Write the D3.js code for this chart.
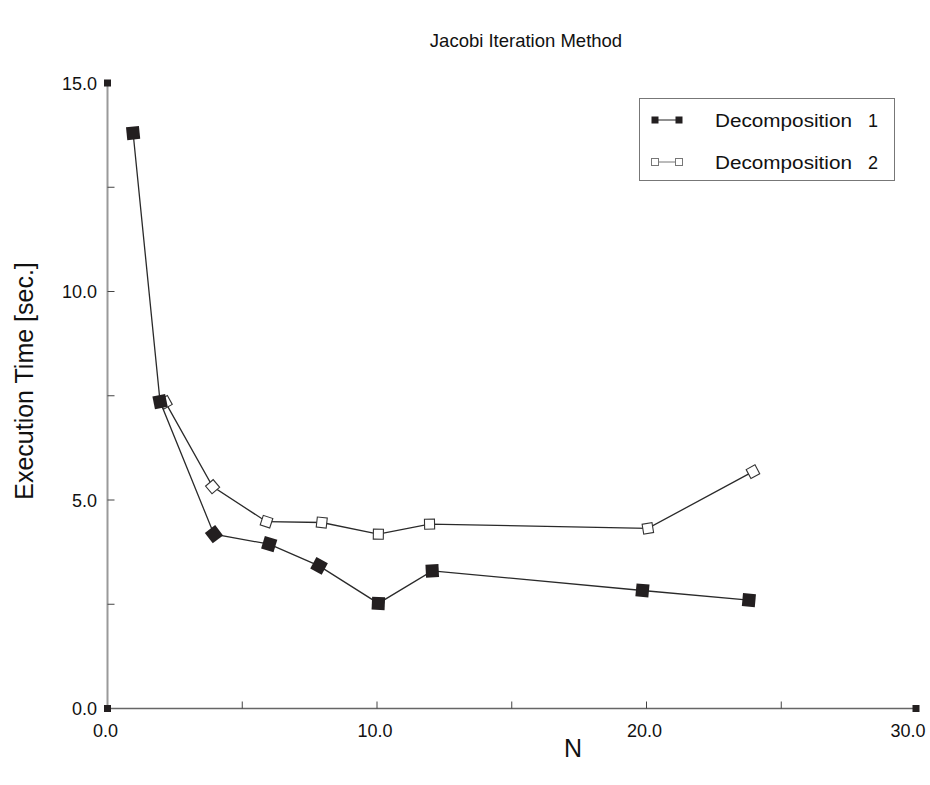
<!DOCTYPE html>
<html><head><meta charset="utf-8">
<script src="https://cdn.jsdelivr.net/npm/d3@7"></script>
<style>
html,body{margin:0;padding:0;background:#fff;}
svg text{font-family:"Liberation Sans",Arial,sans-serif;fill:#111;}
</style></head>
<body><svg id="c" width="930" height="785"></svg>
<script>
// ---- data ----
const seriesWords = ["Decomposition", "Decomposition"];
const seriesNums = ["1", "2"];
const dec1X = [0.95, 1.95, 3.95, 6.0, 7.85, 10.05, 12.05, 19.85, 23.8];
const dec1Y = [13.8, 7.36, 4.18, 3.94, 3.42, 2.52, 3.30, 2.83, 2.60];
const dec2X = [2.15, 3.9, 5.9, 7.95, 10.05, 11.95, 20.05, 23.95];
const dec2Y = [7.34, 5.32, 4.48, 4.46, 4.18, 4.42, 4.32, 5.68];
const xMajorTicks = [0, 10, 20, 30];
const xMinorTicks = [5, 15, 25];
const yMajorTicks = [0, 5, 10, 15];
const yMinorTicks = [2.5, 7.5, 12.5];
const titleText = "Jacobi Iteration Method";
const xTitle = "N";
const yTitle = "Execution Time [sec.]";

const svg = d3.select("#c");
const x = d3.scaleLinear().domain([0, 30]).range([107.5, 916]);
const y = d3.scaleLinear().domain([0, 15]).range([708.5, 83]);

// axes lines
svg.append("line").attr("x1", x(0)).attr("x2", x(0)).attr("y1", y(0)).attr("y2", y(15))
  .attr("stroke", "#9a9a9a").attr("stroke-width", 2);
svg.append("line").attr("x1", x(0)).attr("x2", x(30)).attr("y1", y(0)).attr("y2", y(0))
  .attr("stroke", "#666").attr("stroke-width", 1.5);

// y ticks (inside)
svg.append("g").selectAll("line").data(yMajorTicks.concat(yMinorTicks).filter(v => v > 0 && v < 15))
  .join("line").attr("x1", x(0)).attr("x2", x(0) + 7).attr("y1", d => y(d)).attr("y2", d => y(d))
  .attr("stroke", "#444").attr("stroke-width", 1);
// x ticks (inside)
svg.append("g").selectAll("line").data(xMajorTicks.concat(xMinorTicks).filter(v => v > 0 && v < 30))
  .join("line").attr("x1", d => x(d)).attr("x2", d => x(d)).attr("y1", y(0)).attr("y2", y(0) - 7)
  .attr("stroke", "#444").attr("stroke-width", 1);

// axis end markers
[[0, 15], [0, 0], [30, 0]].forEach(p => {
  svg.append("rect").attr("x", x(p[0]) - 3.5).attr("y", y(p[1]) - 3.5).attr("width", 7).attr("height", 7)
    .attr("fill", "#231f20");
});

// tick labels
svg.append("g").selectAll("text").data(yMajorTicks).join("text")
  .attr("x", 97).attr("y", d => y(d) + 6.5).attr("text-anchor", "end")
  .attr("font-size", 18).text(d => d.toFixed(1));
svg.append("g").selectAll("text").data(xMajorTicks).join("text")
  .attr("x", d => Math.min(x(d) - 2, 908)).attr("y", 736.5).attr("text-anchor", "middle")
  .attr("font-size", 18).text(d => d.toFixed(1));

// titles
svg.append("text").attr("x", 526).attr("y", 47).attr("text-anchor", "middle")
  .attr("font-size", 18.5).text(titleText);
svg.append("text").attr("x", 573).attr("y", 757).attr("text-anchor", "middle")
  .attr("font-size", 25).text(xTitle);
svg.append("text").attr("transform", "translate(33,381) rotate(-90)").attr("text-anchor", "middle")
  .attr("font-size", 25).text(yTitle);

// series
const line = d3.line().x(d => x(d[0])).y(d => y(d[1]));
function drawSeries(xs, ys, filled, size) {
  const pts = xs.map((v, i) => [v, ys[i]]);
  svg.append("path").attr("d", line(pts)).attr("fill", "none")
    .attr("stroke", "#2a2a2a").attr("stroke-width", 1.3);
  const g = svg.append("g");
  pts.forEach((p, i) => {
    const a = pts[Math.max(0, i - 1)], b = pts[Math.min(pts.length - 1, i + 1)];
    const ang = Math.atan2(y(b[1]) - y(a[1]), x(b[0]) - x(a[0])) * 180 / Math.PI;
    g.append("rect").attr("x", -size / 2).attr("y", -size / 2).attr("width", size).attr("height", size)
      .attr("transform", `translate(${x(p[0])},${y(p[1])}) rotate(${ang})`)
      .attr("fill", filled ? "#231f20" : "#fff")
      .attr("stroke", filled ? "#231f20" : "#333").attr("stroke-width", filled ? 0 : 1.1);
  });
}
drawSeries(dec2X, dec2Y, false, 10);
drawSeries(dec1X, dec1Y, true, 13);

// legend
const lg = svg.append("g");
lg.append("rect").attr("x", 639.5).attr("y", 98.5).attr("width", 255).attr("height", 82)
  .attr("fill", "#fff").attr("stroke", "#777").attr("stroke-width", 1);
seriesWords.forEach((name, i) => {
  const cy = 120 + i * 42;
  lg.append("line").attr("x1", 655).attr("x2", 679).attr("y1", cy).attr("y2", cy)
    .attr("stroke", i === 0 ? "#222" : "#777").attr("stroke-width", 1);
  [655, 679].forEach(cx => lg.append("rect").attr("x", cx - 3.5).attr("y", cy - 3.5)
    .attr("width", 7).attr("height", 7)
    .attr("fill", i === 0 ? "#231f20" : "#fff").attr("stroke", i === 0 ? "none" : "#777"));
  lg.append("text").attr("x", 715).attr("y", cy + 6.5).attr("font-size", 18)
    .attr("textLength", 137).attr("lengthAdjust", "spacingAndGlyphs").text(name);
  lg.append("text").attr("x", 868).attr("y", cy + 6.5).attr("font-size", 18).text(seriesNums[i]);
});
</script></body></html>
